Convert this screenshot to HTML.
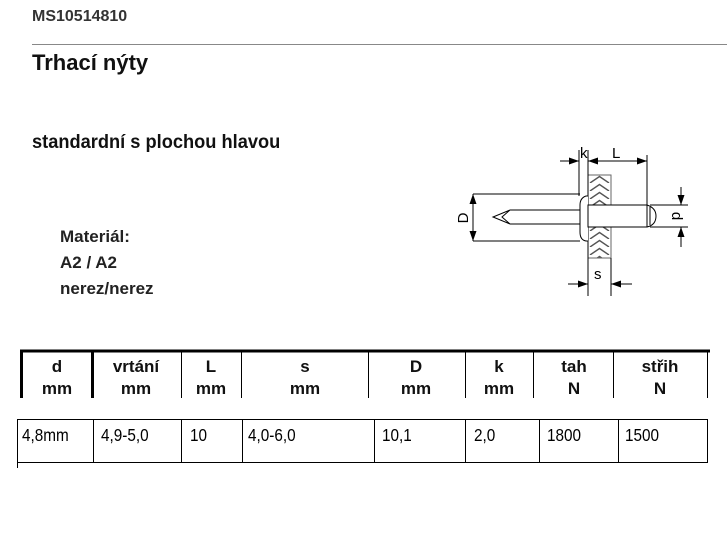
<!DOCTYPE html>
<html><head><meta charset="utf-8"><style>
body{margin:0;width:727px;height:553px;background:#fff;position:relative;overflow:hidden;font-family:"Liberation Sans",sans-serif;color:#000}
.t{position:absolute;white-space:nowrap}
</style></head><body>
<div class="t" style="left:32px;top:8px;font-size:16px;font-weight:bold;color:#333">MS10514810</div>
<div style="position:absolute;left:32px;top:44px;width:695px;height:1px;background:#888"></div>
<div class="t" style="left:32px;top:50px;font-size:22px;font-weight:bold;color:#111;transform:scaleX(1.0);transform-origin:left">Trhací nýty</div>
<div class="t" style="left:32px;top:132px;font-size:19px;font-weight:bold;color:#111;transform:scaleX(0.96);transform-origin:left">standardní s plochou hlavou</div>
<div class="t" style="left:60px;top:224px;font-size:17px;font-weight:bold;line-height:26px;color:#222">Materiál:<br>A2 / A2<br>nerez/nerez</div>

<svg style="position:absolute;left:0;top:0" width="727" height="553">
<defs><pattern id="h" x="588" y="175" width="23" height="8" patternUnits="userSpaceOnUse"><path d="M2,8 L11.5,1.5 L21,8" fill="none" stroke="#555" stroke-width="1.4"/></pattern>
<marker id="a" markerWidth="10" markerHeight="7" refX="10" refY="3.5" orient="auto" markerUnits="userSpaceOnUse"><path d="M0,0 L10,3.5 L0,7z" fill="#000"/></marker></defs>
<g stroke="#000" stroke-width="1" fill="none">
<rect x="588" y="175" width="23" height="83" fill="url(#h)" stroke="#666"/>
<line x1="579" y1="150" x2="579" y2="196"/><line x1="588" y1="150" x2="588" y2="296"/><line x1="611" y1="258" x2="611" y2="296"/><line x1="647" y1="155" x2="647" y2="205"/>
<line x1="560" y1="161" x2="579" y2="161" marker-end="url(#a)"/><line x1="647" y1="161" x2="588" y2="161" marker-end="url(#a)"/><line x1="588" y1="161" x2="647" y2="161" marker-end="url(#a)"/>
<line x1="568" y1="284" x2="588" y2="284" marker-end="url(#a)"/><line x1="632" y1="284" x2="611" y2="284" marker-end="url(#a)"/>
<line x1="473" y1="194" x2="580" y2="194"/><line x1="473" y1="241" x2="580" y2="241"/>
<line x1="473" y1="218" x2="473" y2="194" marker-end="url(#a)"/><line x1="473" y1="218" x2="473" y2="241" marker-end="url(#a)"/>
<path d="M510,210 L588,210 M510,224 L588,224 M510,210 L493,217 L510,224 M510,210 L502,217 L510,224"/>
<path d="M588,196 L586,196 Q580,198 580,205 L580,232 Q580,240 586,241 L588,241" fill="#fff"/>
<rect x="588" y="205" width="59" height="22" fill="#fff"/>
<path d="M647,205 Q656,208 656,216 Q656,225 647,227 M650,207 L650,225"/>
<line x1="650" y1="205" x2="688" y2="205"/><line x1="650" y1="227" x2="688" y2="227"/>
<line x1="681" y1="187" x2="681" y2="205" marker-end="url(#a)"/><line x1="681" y1="247" x2="681" y2="227" marker-end="url(#a)"/>
</g>
<g font-family="Liberation Sans" font-size="15" fill="#000">
<text x="580" y="158">k</text><text x="612" y="158">L</text><text x="594" y="279">s</text>
<text transform="translate(468,218) rotate(-90)" text-anchor="middle">D</text>
<text transform="translate(672,216) rotate(90)" text-anchor="middle">d</text>
</g>
<line x1="20" y1="351" x2="710" y2="351" stroke="#000" stroke-width="3"/>
<line x1="21.5" y1="351" x2="21.5" y2="398" stroke="#000" stroke-width="3"/>
<line x1="92.5" y1="351" x2="92.5" y2="398" stroke="#000" stroke-width="3"/>
<g stroke="#000" stroke-width="1">
<line x1="181.5" y1="351" x2="181.5" y2="398"/><line x1="241.5" y1="351" x2="241.5" y2="398"/><line x1="368.5" y1="351" x2="368.5" y2="398"/><line x1="465.5" y1="351" x2="465.5" y2="398"/><line x1="533.5" y1="351" x2="533.5" y2="398"/><line x1="613.5" y1="351" x2="613.5" y2="398"/><line x1="707.5" y1="351" x2="707.5" y2="398"/>
<rect x="17.5" y="419.5" width="690" height="43" fill="none"/>
<line x1="93.5" y1="419" x2="93.5" y2="462"/><line x1="181.5" y1="419" x2="181.5" y2="462"/><line x1="242.5" y1="419" x2="242.5" y2="462"/><line x1="374.5" y1="419" x2="374.5" y2="462"/><line x1="465.5" y1="419" x2="465.5" y2="462"/><line x1="539.5" y1="419" x2="539.5" y2="462"/><line x1="618.5" y1="419" x2="618.5" y2="462"/>
<line x1="17.5" y1="462" x2="17.5" y2="468"/>
</g>
<g font-family="Liberation Sans" font-size="17" font-weight="bold" text-anchor="middle" fill="#111">
<text x="57" y="372">d</text><text x="57" y="394">mm</text>
<text x="136" y="372">vrtání</text><text x="136" y="394">mm</text>
<text x="211" y="372">L</text><text x="211" y="394">mm</text>
<text x="305" y="372">s</text><text x="305" y="394">mm</text>
<text x="416" y="372">D</text><text x="416" y="394">mm</text>
<text x="499" y="372">k</text><text x="499" y="394">mm</text>
<text x="574" y="372">tah</text><text x="574" y="394">N</text>
<text x="660" y="372">střih</text><text x="660" y="394">N</text>
</g>
<g font-family="Liberation Sans" font-size="18" fill="#000">
<text transform="translate(22,441) scale(0.85,1)">4,8mm</text><text transform="translate(101,441) scale(0.85,1)">4,9-5,0</text><text transform="translate(190,441) scale(0.85,1)">10</text><text transform="translate(248,441) scale(0.85,1)">4,0-6,0</text><text transform="translate(382,441) scale(0.85,1)">10,1</text><text transform="translate(474,441) scale(0.85,1)">2,0</text><text transform="translate(547,441) scale(0.85,1)">1800</text><text transform="translate(625,441) scale(0.85,1)">1500</text>
</g>
</svg>
</body></html>
